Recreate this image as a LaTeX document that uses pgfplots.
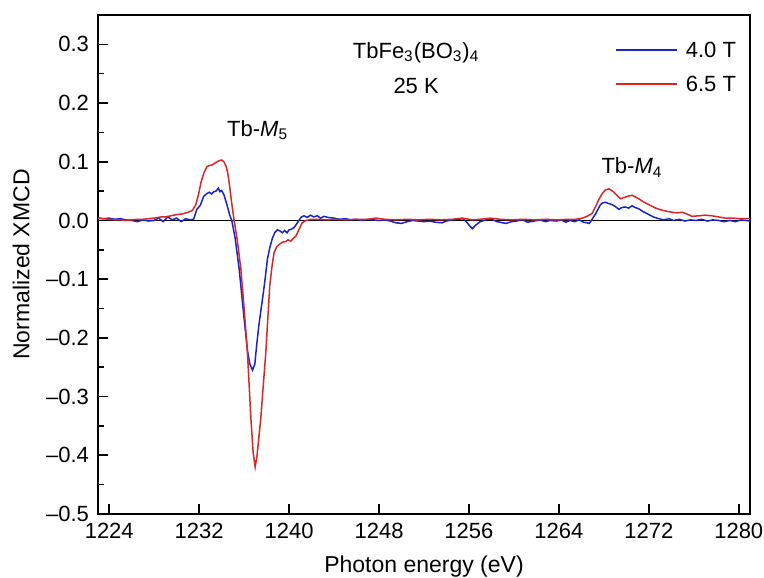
\documentclass[border=0pt]{standalone}
\usepackage{fontspec}
\setmainfont{Liberation Sans}
\usepackage{pgfplots}
\pgfplotsset{compat=1.18}
\usetikzlibrary{calc}

\definecolor{lineblue}{RGB}{25,35,205}
\definecolor{linered}{RGB}{218,38,38}

% 4.0 T
\pgfplotstableread{
x y
1223.0 0.004
1223.5 0.003
1224.0 0.004
1224.5 0.002
1225.0 0.003
1225.5 0.001
1226.0 0.000
1226.5 -0.002
1227.0 0.001
1227.5 -0.001
1228.0 0.000
1228.4 0.004
1228.8 -0.002
1229.2 0.006
1229.6 0.001
1230.0 0.004
1230.4 -0.002
1230.8 0.003
1231.2 0.001
1231.5 0.002
1231.8 0.019
1232.1 0.026
1232.4 0.041
1232.7 0.046
1232.9 0.048
1233.1 0.045
1233.3 0.049
1233.5 0.050
1233.7 0.055
1233.85 0.049
1234.0 0.051
1234.2 0.044
1234.5 0.025
1234.7 0.010
1234.9 0.000
1235.2 -0.030
1235.56 -0.083
1236.0 -0.168
1236.3 -0.222
1236.5 -0.244
1236.74 -0.255
1236.95 -0.245
1237.1 -0.215
1237.3 -0.180
1237.63 -0.134
1237.8 -0.110
1238.07 -0.066
1238.3 -0.045
1238.52 -0.030
1238.75 -0.020
1238.96 -0.016
1239.2 -0.018
1239.4 -0.021
1239.6 -0.017
1239.82 -0.021
1240.0 -0.016
1240.2 -0.015
1240.44 -0.012
1240.7 -0.005
1240.9 0.001
1241.1 0.006
1241.33 0.008
1241.6 0.005
1241.9 0.009
1242.2 0.006
1242.5 0.008
1242.8 0.004
1243.1 0.007
1243.5 0.005
1244.0 0.004
1244.5 0.002
1245.0 0.003
1245.5 0.001
1246.0 0.002
1246.5 0.000
1247.0 0.002
1247.5 0.001
1248.0 0.000
1248.5 0.001
1249.0 -0.001
1249.5 -0.004
1250.0 -0.005
1250.5 -0.002
1251.0 0.000
1251.5 -0.001
1252.0 -0.002
1252.5 -0.001
1253.0 -0.003
1253.6 -0.004
1254.0 -0.001
1254.5 0.001
1255.0 0.002
1255.5 0.003
1255.8 -0.003
1256.1 -0.010
1256.3 -0.014
1256.6 -0.008
1257.0 -0.002
1257.5 0.001
1258.0 0.002
1258.5 -0.002
1259.0 -0.004
1259.3 -0.005
1259.8 -0.002
1260.2 -0.001
1260.8 0.001
1261.2 -0.003
1261.8 -0.001
1262.3 0.001
1262.8 -0.002
1263.2 0.000
1263.8 -0.001
1264.2 0.001
1264.6 -0.003
1265.0 0.000
1265.4 -0.002
1265.8 0.001
1266.2 -0.003
1266.5 -0.004
1266.7 -0.005
1266.95 0.002
1267.26 0.011
1267.5 0.020
1267.7 0.027
1267.9 0.030
1268.15 0.031
1268.4 0.029
1268.74 0.027
1269.0 0.024
1269.33 0.019
1269.6 0.022
1269.9 0.023
1270.2 0.021
1270.5 0.025
1270.8 0.022
1271.1 0.020
1271.5 0.015
1272.0 0.010
1272.4 0.006
1272.9 0.003
1273.3 0.001
1273.8 0.003
1274.2 0.000
1274.7 0.002
1275.2 -0.001
1275.7 0.001
1276.2 0.000
1276.7 0.002
1277.2 -0.001
1277.7 0.001
1278.2 0.000
1278.7 -0.002
1279.2 0.000
1279.7 -0.002
1280.2 0.001
1281.0 -0.001
}\lowfield

% 6.5 T
\pgfplotstableread{
x y
1223.0 0.004
1223.5 0.003
1224.0 0.002
1224.5 0.001
1225.0 0.001
1225.5 0.000
1226.0 0.001
1226.5 0.002
1227.0 0.002
1227.5 0.003
1228.0 0.004
1228.6 0.006
1229.0 0.006
1229.5 0.008
1230.0 0.010
1230.5 0.011
1231.0 0.014
1231.4 0.017
1231.7 0.027
1231.95 0.045
1232.15 0.064
1232.4 0.080
1232.7 0.092
1233.0 0.094
1233.2 0.095
1233.5 0.099
1233.8 0.102
1234.0 0.103
1234.2 0.100
1234.4 0.092
1234.55 0.080
1234.7 0.060
1234.85 0.036
1235.0 0.015
1235.11 0.000
1235.4 -0.035
1235.71 -0.083
1236.0 -0.150
1236.29 -0.224
1236.6 -0.337
1236.8 -0.395
1236.98 -0.420
1237.15 -0.400
1237.48 -0.337
1237.93 -0.224
1238.28 -0.111
1238.5 -0.075
1238.67 -0.054
1238.9 -0.045
1239.11 -0.041
1239.4 -0.037
1239.7 -0.036
1239.9 -0.033
1240.15 -0.035
1240.4 -0.030
1240.6 -0.027
1240.89 -0.015
1241.16 -0.004
1241.5 0.000
1242.0 0.002
1242.7 0.002
1243.5 0.001
1244.0 0.002
1245.0 0.001
1246.0 0.002
1247.0 0.002
1247.7 0.004
1248.5 0.002
1249.5 0.001
1250.5 0.002
1251.5 0.001
1252.5 0.002
1253.5 0.001
1254.5 0.002
1255.4 0.004
1256.3 0.001
1257.0 0.002
1257.9 0.004
1258.8 0.002
1259.8 0.001
1260.8 0.002
1261.8 0.001
1262.8 0.002
1263.8 0.001
1264.8 0.002
1265.5 0.002
1266.1 0.004
1266.5 0.007
1266.96 0.012
1267.3 0.025
1267.56 0.036
1267.9 0.047
1268.15 0.052
1268.44 0.054
1268.7 0.051
1268.9 0.048
1269.2 0.042
1269.48 0.037
1269.8 0.039
1270.07 0.041
1270.52 0.043
1270.8 0.040
1271.1 0.037
1271.5 0.032
1272.0 0.027
1272.5 0.022
1272.9 0.019
1273.5 0.016
1274.07 0.014
1274.5 0.013
1275.0 0.014
1275.5 0.010
1275.85 0.007
1276.5 0.008
1277.0 0.009
1277.6 0.008
1278.2 0.006
1278.8 0.004
1279.5 0.004
1280.2 0.003
1281.0 0.003
}\highfield

\begin{document}
\begin{tikzpicture}
\begin{axis}[
    scale only axis,
    width=326pt, height=249.5pt,
    xmin=1223, xmax=1281,
    ymin=-0.5, ymax=0.35,
    axis line style={line width=0.9pt},
    tick align=inside,
    xtick pos=bottom, ytick pos=left,
    major tick length=5pt, minor tick length=3pt,
    every tick/.style={black, line width=0.8pt},
    xtick={1224,1232,...,1280},
    xticklabels={1224,1232,1240,1248,1256,1264,1272,1280},
    ytick={-0.5,-0.4,...,0.31},
    yticklabels={–0.5,–0.4,–0.3,–0.2,–0.1,0.0,0.1,0.2,0.3},
    minor x tick num=1,
    minor y tick num=1,
    extra y ticks={0},
    extra y tick labels={},
    extra y tick style={grid=major, major grid style={black, line width=0.6pt}, major tick length=0pt},
    tick label style={font=\fontsize{11}{13}\selectfont},
    xticklabel style={yshift=-1pt},
    yticklabel style={xshift=-1pt},
    xlabel={Photon energy (eV)},
    ylabel={Normalized XMCD},
    label style={font=\fontsize{11.5}{14}\selectfont},
    xlabel style={at={(axis description cs:0.5,-0.106)}, anchor=center},
    ylabel style={at={(axis description cs:-0.118,0.5)}, anchor=center},
]
\addplot[lineblue, line width=0.75pt] table[x=x,y=y] {\lowfield};
\addplot[linered, line width=0.75pt] table[x=x,y=y] {\highfield};

% legend, drawn by hand
\draw[lineblue, line width=0.75pt] (axis description cs:0.794,0.930) -- (axis description cs:0.888,0.930);
\node[anchor=west, inner sep=0pt, font=\fontsize{11}{13}\selectfont] at (axis description cs:0.901,0.930) {4.0 T};
\draw[linered, line width=0.75pt] (axis description cs:0.794,0.862) -- (axis description cs:0.888,0.862);
\node[anchor=west, inner sep=0pt, font=\fontsize{11}{13}\selectfont] at (axis description cs:0.901,0.862) {6.5 T};

\node[font=\fontsize{11}{13}\selectfont] at (axis cs:1251.3,0.286) {TbFe\textsubscript{3}(BO\textsubscript{3})\textsubscript{4}};
\node[font=\fontsize{11}{13}\selectfont] at (axis cs:1251.3,0.229) {25 K};
\node[font=\fontsize{11}{13}\selectfont] at (axis cs:1237.2,0.154) {Tb-\textit{M}\textsubscript{5}};
\node[font=\fontsize{11}{13}\selectfont] at (axis cs:1270.5,0.090) {Tb-\textit{M}\textsubscript{4}};
\end{axis}
\pgfresetboundingbox
\path[use as bounding box] ($(current axis.south west)+(-49pt,-32pt)$) rectangle ($(current axis.north east)+(7pt,7.5pt)$);
\end{tikzpicture}
\end{document}
